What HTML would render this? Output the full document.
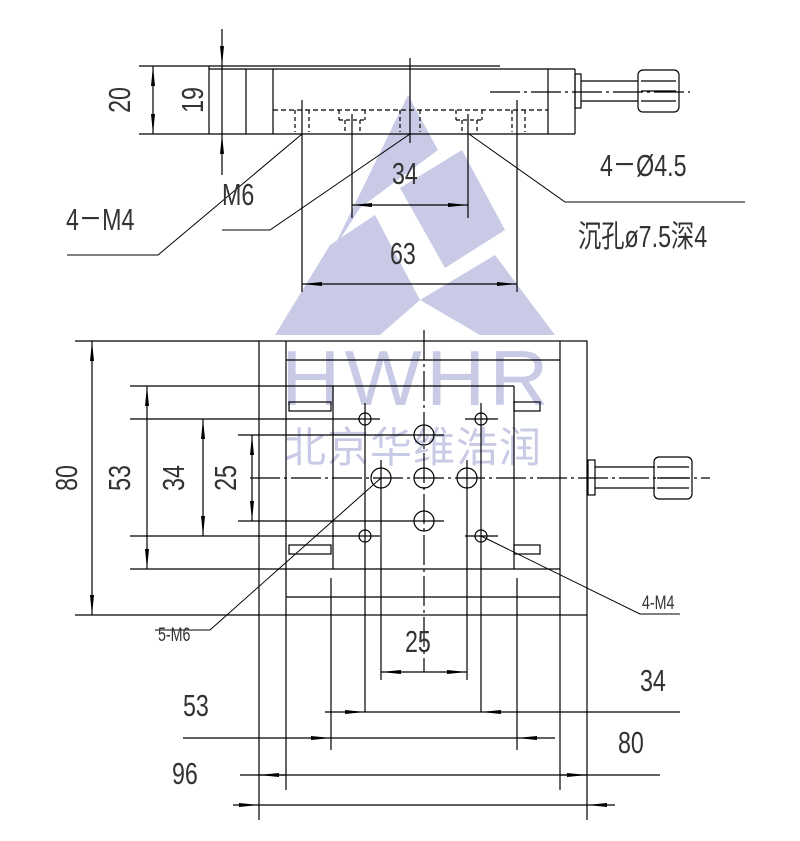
<!DOCTYPE html>
<html><head><meta charset="utf-8"><style>
html,body{margin:0;padding:0;background:#fff;}
svg{display:block;}
text{font-family:"Liberation Sans","Noto Sans CJK SC",sans-serif;fill:#333;}
</style></head><body>
<svg width="800" height="841" viewBox="0 0 800 841" xmlns="http://www.w3.org/2000/svg">
<defs>
<marker id="a" viewBox="0 0 20 6" refX="20" refY="3" markerWidth="20" markerHeight="6" markerUnits="userSpaceOnUse" orient="auto-start-reverse"><path d="M0,1 L20,3 L0,5 Z" fill="#000"/></marker>
</defs>
<!-- watermark -->
<g fill="#c9cbe6">
<polygon points="408,95 438,150 360,208 330,255"/>
<polygon points="400,188 462,150 505,230 445,268"/>
<polygon points="330,245 375,215 420,300 380,335 275,335"/>
<polygon points="420,300 495,255 555,335 480,335"/>
<text transform="translate(417,405) scale(1.05,1)" font-size="78" text-anchor="middle" style="fill:#c9cbe6" letter-spacing="4">HWHR</text>
<text x="413" y="462" font-size="42" text-anchor="middle" style="fill:#c9cbe6;font-family:'Noto Sans CJK SC',sans-serif" letter-spacing="1">北京华维浩润</text>
</g>
<g stroke="#000" stroke-width="1.2" fill="none">
<!-- SIDE VIEW -->
<line x1="139" y1="66" x2="500" y2="66"/>
<line x1="139" y1="134" x2="575" y2="134"/>
<line x1="209" y1="69" x2="548" y2="69"/>
<line x1="209" y1="66" x2="209" y2="134"/>
<line x1="246" y1="69" x2="246" y2="134"/>
<line x1="273" y1="69" x2="273" y2="134"/>
<line x1="548" y1="69" x2="548" y2="134"/>
<line x1="548" y1="69" x2="575" y2="69"/>
<line x1="575" y1="69" x2="575" y2="134"/>
<rect x="575" y="74" width="6" height="34"/>
<line x1="581" y1="81" x2="638" y2="81"/><line x1="581" y1="101" x2="638" y2="101"/>
<rect x="638" y="70" width="41" height="42" rx="5"/>
<line x1="641" y1="81" x2="676" y2="81"/><line x1="641" y1="91" x2="676" y2="91"/><line x1="641" y1="101" x2="676" y2="101"/>
<line x1="490" y1="92" x2="690" y2="92" stroke-dasharray="30,4,3,4"/>
<line x1="273" y1="110" x2="548" y2="110" stroke-dasharray="5,3"/>
<g stroke-dasharray="4,3">
<line x1="295" y1="110" x2="295" y2="132"/><line x1="309" y1="110" x2="309" y2="132"/>
<line x1="339" y1="110" x2="339" y2="120"/><line x1="365" y1="110" x2="365" y2="120"/><line x1="339" y1="120" x2="365" y2="120"/><line x1="345" y1="120" x2="345" y2="132"/><line x1="360" y1="120" x2="360" y2="132"/>
<line x1="400" y1="110" x2="400" y2="132"/><line x1="420" y1="110" x2="420" y2="132"/>
<line x1="456" y1="110" x2="456" y2="120"/><line x1="482" y1="110" x2="482" y2="120"/><line x1="456" y1="120" x2="482" y2="120"/><line x1="462" y1="120" x2="462" y2="132"/><line x1="477" y1="120" x2="477" y2="132"/>
<line x1="512" y1="110" x2="512" y2="132"/><line x1="525" y1="110" x2="525" y2="132"/>
</g>
<line x1="410" y1="58" x2="410" y2="143"/>
<line x1="302" y1="100" x2="302" y2="292"/>
<line x1="517" y1="100" x2="517" y2="292"/>
<line x1="352" y1="114" x2="352" y2="218"/>
<line x1="468" y1="114" x2="468" y2="218"/>
<line x1="352" y1="205" x2="468" y2="205" marker-start="url(#a)" marker-end="url(#a)"/>
<line x1="302" y1="284" x2="517" y2="284" marker-start="url(#a)" marker-end="url(#a)"/>
<polyline points="302,134 158,255 67,255" stroke-width="1"/>
<polyline points="410,134 270,230 222,230" stroke-width="1"/>
<polyline points="469,134 565,202 745,202" stroke-width="1"/>
<line x1="153" y1="66" x2="153" y2="134" marker-start="url(#a)" marker-end="url(#a)"/>
<line x1="222" y1="29" x2="222" y2="66" marker-end="url(#a)"/>
<line x1="222" y1="66" x2="222" y2="134"/>
<line x1="222" y1="175" x2="222" y2="134" marker-end="url(#a)"/>
<!-- TOP VIEW -->
<rect x="259" y="341" width="328" height="274"/>
<line x1="286" y1="341" x2="286" y2="790"/>
<line x1="560" y1="341" x2="560" y2="790"/>
<line x1="259" y1="615" x2="259" y2="820"/>
<line x1="587" y1="615" x2="587" y2="820"/>
<line x1="286" y1="360" x2="560" y2="360"/>
<line x1="286" y1="386" x2="514" y2="386"/>
<line x1="333" y1="386" x2="333" y2="569"/>
<line x1="514" y1="386" x2="514" y2="569"/>
<line x1="286" y1="569" x2="560" y2="569"/>
<line x1="286" y1="597" x2="560" y2="597"/>
<line x1="424" y1="330" x2="424" y2="672" stroke-dasharray="30,4,3,4"/>
<line x1="250" y1="478" x2="710" y2="478" stroke-dasharray="30,4,3,4"/>
<!-- pins -->
<rect x="289" y="402" width="42" height="9"/>
<rect x="289" y="545" width="42" height="9"/>
<rect x="514" y="402" width="26" height="9"/>
<rect x="514" y="545" width="26" height="9"/>
<!-- holes -->
<circle cx="365" cy="419" r="6"/><circle cx="481" cy="419" r="6"/>
<circle cx="365" cy="536" r="6"/><circle cx="481" cy="536" r="6"/>
<circle cx="424" cy="435" r="10"/><circle cx="381" cy="478" r="10"/><circle cx="424" cy="478" r="10"/><circle cx="467" cy="478" r="10"/><circle cx="424" cy="521" r="10"/>
<line x1="130" y1="419" x2="380" y2="419"/><line x1="465" y1="419" x2="498" y2="419"/>
<line x1="130" y1="536" x2="380" y2="536"/><line x1="465" y1="536" x2="498" y2="536"/>
<line x1="365" y1="403" x2="365" y2="712"/>
<line x1="481" y1="403" x2="481" y2="712"/>
<line x1="331" y1="578" x2="331" y2="750"/>
<line x1="517" y1="578" x2="517" y2="750"/>
<line x1="238" y1="435" x2="444" y2="435"/>
<line x1="238" y1="521" x2="444" y2="521"/>
<line x1="381" y1="460" x2="381" y2="680"/>
<line x1="467" y1="460" x2="467" y2="680"/>
<!-- knob -->
<rect x="588" y="460" width="7" height="35"/>
<line x1="595" y1="467" x2="655" y2="467"/><line x1="595" y1="488" x2="655" y2="488"/>
<rect x="654" y="457" width="38" height="42" rx="5"/>
<line x1="657" y1="467" x2="689" y2="467"/><line x1="657" y1="478" x2="689" y2="478"/><line x1="657" y1="488" x2="689" y2="488"/>
<!-- leaders -->
<polyline points="381,478 210,630 155,630" stroke-width="1"/>
<polyline points="481,536 640,614 680,614" stroke-width="1"/>
<!-- left dims -->
<line x1="75" y1="341" x2="259" y2="341"/>
<line x1="75" y1="615" x2="259" y2="615"/>
<line x1="130" y1="386" x2="286" y2="386"/>
<line x1="130" y1="569" x2="286" y2="569"/>
<line x1="92" y1="341" x2="92" y2="615" marker-start="url(#a)" marker-end="url(#a)"/>
<line x1="147" y1="386" x2="147" y2="569" marker-start="url(#a)" marker-end="url(#a)"/>
<line x1="203" y1="419" x2="203" y2="536" marker-start="url(#a)" marker-end="url(#a)"/>
<line x1="252" y1="435" x2="252" y2="521" marker-start="url(#a)" marker-end="url(#a)"/>
<!-- bottom dims -->
<line x1="381" y1="672" x2="467" y2="672" marker-start="url(#a)" marker-end="url(#a)"/>
<line x1="325" y1="712" x2="365" y2="712" marker-end="url(#a)"/>
<line x1="365" y1="712" x2="481" y2="712"/>
<line x1="680" y1="712" x2="481" y2="712" marker-end="url(#a)"/>
<line x1="183" y1="738" x2="331" y2="738" marker-end="url(#a)"/>
<line x1="331" y1="738" x2="517" y2="738"/>
<line x1="555" y1="738" x2="517" y2="738" marker-end="url(#a)"/>
<line x1="240" y1="775" x2="660" y2="775"/>
<line x1="286" y1="775" x2="259" y2="775" marker-end="url(#a)"/>
<line x1="560" y1="775" x2="587" y2="775" marker-end="url(#a)"/>
<line x1="233" y1="805" x2="259" y2="805" marker-end="url(#a)"/>
<line x1="259" y1="805" x2="587" y2="805"/>
<line x1="615" y1="805" x2="587" y2="805" marker-end="url(#a)"/>
</g>
<g font-size="31">
<text transform="translate(130,100) rotate(-90) scale(0.75,1)" text-anchor="middle">20</text>
<text transform="translate(203,100) rotate(-90) scale(0.75,1)" text-anchor="middle">19</text>
<text transform="translate(222,205) scale(0.75,1)">M6</text>
<text transform="translate(66,230) scale(0.75,1)">4－M4</text>
<text transform="translate(392,184) scale(0.75,1)">34</text>
<text transform="translate(390,264) scale(0.75,1)">63</text>
<text transform="translate(600,176) scale(0.75,1)">4－Ø4.5</text>
<text transform="translate(578,247) scale(0.75,1)">沉孔ø7.5深4</text>
<text transform="translate(77,478) rotate(-90) scale(0.75,1)" text-anchor="middle">80</text>
<text transform="translate(130,478) rotate(-90) scale(0.75,1)" text-anchor="middle">53</text>
<text transform="translate(184,478) rotate(-90) scale(0.75,1)" text-anchor="middle">34</text>
<text transform="translate(236,478) rotate(-90) scale(0.75,1)" text-anchor="middle">25</text>
<text transform="translate(405,652) scale(0.75,1)">25</text>
<text transform="translate(640,691) scale(0.75,1)">34</text>
<text transform="translate(183,716) scale(0.75,1)">53</text>
<text transform="translate(618,753) scale(0.75,1)">80</text>
<text transform="translate(172,784) scale(0.75,1)">96</text>
</g>
<text transform="translate(158,641) scale(0.75,1)" font-size="19">5-M6</text>
<text transform="translate(642,609) scale(0.75,1)" font-size="19">4-M4</text>
</svg>
</body></html>
